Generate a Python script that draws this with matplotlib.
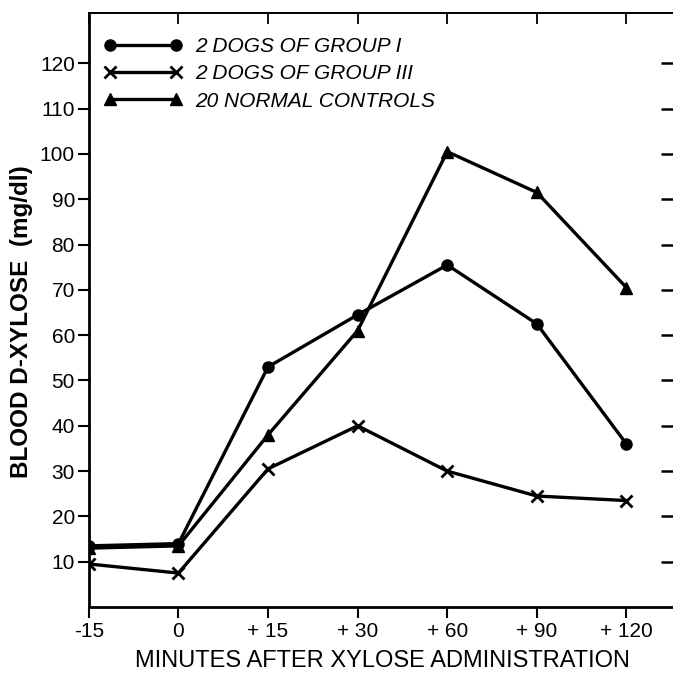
import matplotlib.pyplot as plt

# x categories (evenly spaced in the original)
minutes = ["-15", "0", "+ 15", "+ 30", "+ 60", "+ 90", "+ 120"]

# blood D-xylose values (mg/dl)
group_i = [13.5, 14.0, 53.0, 64.5, 75.5, 62.5, 36.0]
group_iii = [9.5, 7.5, 30.5, 40.0, 30.0, 24.5, 23.5]
controls = [13.0, 13.5, 38.0, 61.0, 100.5, 91.5, 70.5]

y_ticks = [10, 20, 30, 40, 50, 60, 70, 80, 90, 100, 110, 120]

plt.rcParams['font.family'] = ['Liberation Sans', 'DejaVu Sans']

fig = plt.figure(figsize=(6.73, 6.73), dpi=100)
# right spine sits just past the image edge, as in the scan
ax = fig.add_axes([0.132, 0.098, 0.872, 0.882])

x = list(range(len(minutes)))
ax.plot(x, group_i, color='black', lw=2.4, marker='o', markersize=8,
        label="2 DOGS OF GROUP I")
ax.plot(x, group_iii, color='black', lw=2.4, marker='x', markersize=9,
        markeredgewidth=2, label="2 DOGS OF GROUP III")
ax.plot(x, controls, color='black', lw=2.4, marker='^', markersize=9,
        label="20 NORMAL CONTROLS")

ax.set_xlim(0, 6.55)
ax.set_ylim(0, 131)
ax.set_xticks(x)
ax.set_xticklabels(minutes, fontsize=15)
ax.set_yticks(y_ticks)
ax.set_yticklabels([str(v) for v in y_ticks], fontsize=15)

ax.tick_params(axis='both', direction='out', length=8, width=1.5)
ax.tick_params(axis='x', pad=3)
ax.tick_params(axis='y', pad=2)

# inward ticks on the top and right edges
sec_top = ax.secondary_xaxis('top')
sec_top.set_xticks(x, labels=[])
sec_top.tick_params(direction='in', length=8, width=1.3)
sec_top.spines['top'].set_linewidth(1.3)
sec_right = ax.secondary_yaxis('right')
sec_right.set_yticks(y_ticks, labels=[])
sec_right.tick_params(direction='in', length=11, width=1.8)
sec_right.spines['right'].set_visible(False)
ax.spines['right'].set_visible(False)

for name in ['left', 'bottom']:
    ax.spines[name].set_linewidth(2)
ax.spines['top'].set_linewidth(1.3)

ax.set_xlabel("MINUTES AFTER XYLOSE ADMINISTRATION", fontsize=17, va='center')
ax.xaxis.set_label_coords(0.5, -0.091)
ax.set_ylabel("BLOOD D-XYLOSE  (mg/dl)", fontsize=17.5, fontweight='bold', va='center')
ax.yaxis.set_label_coords(-0.114, 0.48)

leg = ax.legend(loc='upper left', frameon=False, numpoints=2, handlelength=3.8,
                handletextpad=0.6, prop={'style': 'italic', 'size': 15},
                borderaxespad=0.3, labelspacing=0.4,
                bbox_to_anchor=(0.0, 0.985))

fig.savefig("out.png", dpi=100)
